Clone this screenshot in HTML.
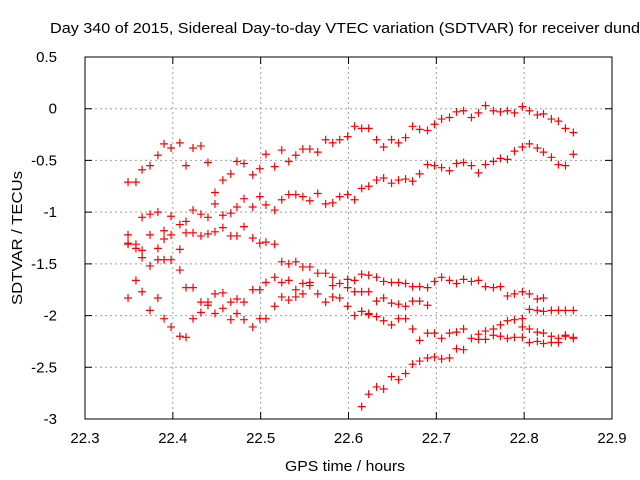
<!DOCTYPE html>
<html><head><meta charset="utf-8"><style>
html,body{margin:0;padding:0;background:#fff;}
svg{display:block;font-family:"Liberation Sans",sans-serif;}
</style></head><body>
<svg id="chart" width="640" height="480" viewBox="0 0 640 480">
<rect width="640" height="480" fill="#fff"/>
<text x="50" y="33" font-size="15" textLength="590" lengthAdjust="spacingAndGlyphs">Day 340 of 2015, Sidereal Day-to-day VTEC variation (SDTVAR) for receiver dund</text>
<g id="grid"></g>
<g id="axes"></g>
<g id="marks"></g>
<text x="345" y="471" font-size="15" text-anchor="middle" textLength="120" lengthAdjust="spacingAndGlyphs">GPS time / hours</text>
<text transform="translate(22,238) rotate(-90)" font-size="15" text-anchor="middle" textLength="134" lengthAdjust="spacingAndGlyphs">SDTVAR / TECUs</text>
</svg>
<script>
const xTicks = [22.3,22.4,22.5,22.6,22.7,22.8,22.9];
const yTicks = [0.5,0,-0.5,-1,-1.5,-2,-2.5,-3];
const xTickLabels = ["22.3","22.4","22.5","22.6","22.7","22.8","22.9"];
const yTickLabels = ["0.5","0","-0.5","-1","-1.5","-2","-2.5","-3"];

const topX = [22.349,22.358,22.365,22.374,22.383,22.390,22.398,22.408,22.415,22.423,22.432,22.440,22.448,22.448,22.457,22.466,22.473,22.481,22.491,22.499,22.506,22.516,22.524,22.532,22.540,22.548,22.556,22.565,22.574,22.582,22.590,22.599,22.607,22.615,22.623,22.632,22.640,22.649,22.657,22.665,22.673,22.681,22.690,22.698,22.706,22.715,22.723,22.731,22.740,22.748,22.756,22.765,22.773,22.781,22.789,22.798,22.806,22.815,22.822,22.831,22.839,22.847,22.856];
const topY = [-0.71,-0.71,-0.59,-0.55,-0.45,-0.34,-0.38,-0.33,-0.55,-0.38,-0.36,-0.52,-0.81,-0.92,-0.69,-0.63,-0.51,-0.53,-0.64,-0.58,-0.44,-0.56,-0.40,-0.51,-0.45,-0.39,-0.39,-0.42,-0.30,-0.33,-0.30,-0.27,-0.17,-0.19,-0.19,-0.30,-0.37,-0.30,-0.33,-0.28,-0.17,-0.20,-0.21,-0.15,-0.10,-0.085,-0.03,-0.02,-0.085,-0.04,0.03,-0.02,-0.03,-0.02,-0.04,0.02,-0.02,-0.06,-0.05,-0.10,-0.12,-0.19,-0.23];

const secondX = [22.365,22.374,22.383,22.398,22.408,22.415,22.423,22.432,22.440,22.457,22.466,22.473,22.481,22.491,22.499,22.506,22.516,22.524,22.532,22.540,22.548,22.556,22.565,22.574,22.582,22.590,22.599,22.607,22.615,22.623,22.632,22.640,22.649,22.657,22.665,22.673,22.681,22.690,22.698,22.706,22.715,22.723,22.731,22.740,22.748,22.756,22.765,22.773,22.781,22.789,22.798,22.806,22.815,22.822,22.831,22.839,22.847,22.856];
const secondY = [-1.05,-1.02,-1.00,-1.04,-1.12,-1.09,-0.98,-1.02,-1.05,-1.03,-1.01,-0.95,-0.87,-0.95,-0.85,-0.93,-0.98,-0.88,-0.83,-0.83,-0.85,-0.89,-0.82,-0.92,-0.91,-0.85,-0.83,-0.88,-0.77,-0.75,-0.69,-0.67,-0.72,-0.69,-0.68,-0.70,-0.63,-0.54,-0.55,-0.57,-0.60,-0.53,-0.52,-0.55,-0.62,-0.54,-0.51,-0.48,-0.49,-0.41,-0.37,-0.34,-0.38,-0.42,-0.47,-0.54,-0.55,-0.44];

const middleX = [22.349,22.349,22.349,22.358,22.358,22.365,22.365,22.374,22.374,22.383,22.383,22.390,22.398,22.390,22.390,22.398,22.408,22.408,22.415,22.423,22.432,22.440,22.448,22.457,22.466,22.473,22.481,22.491,22.499,22.506,22.516,22.524,22.532,22.540,22.548,22.556,22.565,22.574,22.582,22.590,22.599,22.607,22.615,22.623,22.632,22.640,22.649,22.657,22.665,22.673,22.681,22.690,22.698,22.706,22.715,22.723,22.731,22.740,22.748,22.756,22.765,22.773,22.781,22.789,22.798,22.806,22.815,22.822];
const middleY = [-1.22,-1.30,-1.31,-1.31,-1.35,-1.37,-1.44,-1.22,-1.52,-1.35,-1.46,-1.46,-1.46,-1.18,-1.26,-1.22,-1.36,-1.56,-1.20,-1.20,-1.23,-1.21,-1.19,-1.15,-1.23,-1.23,-1.14,-1.25,-1.30,-1.29,-1.31,-1.48,-1.50,-1.48,-1.53,-1.53,-1.59,-1.59,-1.63,-1.69,-1.65,-1.66,-1.60,-1.61,-1.63,-1.67,-1.68,-1.68,-1.69,-1.72,-1.72,-1.73,-1.67,-1.63,-1.66,-1.69,-1.65,-1.67,-1.66,-1.72,-1.73,-1.72,-1.81,-1.79,-1.77,-1.79,-1.84,-1.83];

const lowerX = [22.349,22.358,22.365,22.374,22.383,22.390,22.398,22.408,22.415,22.415,22.423,22.423,22.432,22.440,22.432,22.440,22.448,22.457,22.448,22.457,22.466,22.473,22.481,22.466,22.473,22.481,22.491,22.499,22.491,22.499,22.506,22.506,22.516,22.516,22.524,22.532,22.524,22.532,22.540,22.548,22.540,22.548,22.556,22.556,22.565,22.574,22.582,22.590,22.582,22.599,22.599,22.607,22.615,22.623,22.607,22.615,22.623,22.632,22.640,22.649,22.657,22.665,22.673,22.681,22.690];
const lowerY = [-1.83,-1.66,-1.77,-1.95,-1.83,-2.03,-2.11,-2.20,-2.21,-1.73,-1.73,-2.03,-1.87,-1.87,-1.97,-1.90,-1.79,-1.78,-1.98,-1.93,-1.87,-1.84,-1.87,-2.04,-1.98,-2.04,-1.75,-1.75,-2.11,-2.03,-2.03,-1.68,-1.63,-1.91,-1.68,-1.66,-1.82,-1.85,-1.82,-1.79,-1.75,-1.69,-1.68,-1.71,-1.79,-1.87,-1.82,-1.83,-1.71,-1.73,-1.91,-1.77,-1.77,-1.77,-2.00,-1.96,-1.98,-1.86,-1.83,-1.88,-1.89,-1.91,-1.86,-1.86,-1.90];

const dropX = [22.615,22.623,22.632,22.640,22.649,22.657,22.665,22.673,22.681,22.690,22.698,22.706,22.715,22.723,22.731,22.740,22.748,22.756,22.748,22.756,22.765,22.773,22.781,22.789,22.798,22.765,22.773,22.781,22.789,22.798,22.798,22.806,22.815,22.822,22.806,22.815,22.822,22.831,22.839,22.847,22.856,22.831,22.839,22.847,22.856,22.806,22.815,22.822,22.831,22.839,22.847,22.856];
const dropY = [-1.96,-1.99,-2.01,-2.05,-2.09,-2.03,-2.03,-2.13,-2.24,-2.17,-2.17,-2.22,-2.17,-2.16,-2.13,-2.22,-2.23,-2.23,-2.18,-2.15,-2.13,-2.09,-2.05,-2.04,-2.03,-2.19,-2.20,-2.22,-2.21,-2.21,-2.11,-2.13,-2.16,-2.17,-2.26,-2.25,-2.27,-2.26,-2.26,-2.20,-2.22,-2.20,-2.22,-2.19,-2.21,-1.94,-1.95,-1.96,-1.95,-1.95,-1.95,-1.95];

const riseX = [22.615,22.623,22.632,22.640,22.649,22.657,22.665,22.673,22.681,22.690,22.698,22.706,22.715,22.723,22.731];
const riseY = [-2.88,-2.76,-2.69,-2.71,-2.59,-2.62,-2.56,-2.47,-2.44,-2.41,-2.40,-2.42,-2.41,-2.32,-2.33];

const L=85,R=612,T=57,B=419;
const xMin=22.3,xMax=22.9,yMin=-3,yMax=0.5;
function xs(v){return L+(v-xMin)/(xMax-xMin)*(R-L);}
function ys(v){return B-(v-yMin)/(yMax-yMin)*(B-T);}
const NS="http://www.w3.org/2000/svg";
function mk(tag,attrs,parent){const e=document.createElementNS(NS,tag);for(const k in attrs)e.setAttribute(k,attrs[k]);parent.appendChild(e);return e;}
const grid=document.getElementById('grid'),axes=document.getElementById('axes'),marks=document.getElementById('marks');

xTicks.forEach((t,i)=>{
  const x=xs(t);
  if(i>0&&i<xTicks.length-1){
    const g=mk('line',{x1:x,x2:x,y1:T,y2:B,stroke:'#a0a0a0','stroke-dasharray':'2,3','stroke-width':1},grid);
    
    
  }
  const tk=mk('path',{d:`M${x},${B}v-7M${x},${T}v7`,stroke:'#000','stroke-width':1},axes);
  
  
  const lb=mk('text',{x:x,y:B+24,'font-size':15,'text-anchor':'middle'},axes);
  lb.textContent=xTickLabels[i];
  
  
});
yTicks.forEach((t,i)=>{
  const y=ys(t);
  if(i>0&&i<yTicks.length-1){
    const g=mk('line',{x1:L,x2:R,y1:y,y2:y,stroke:'#a0a0a0','stroke-dasharray':'2,3','stroke-width':1},grid);
    
    
  }
  const tk=mk('path',{d:`M${L},${y}h7M${R},${y}h-7`,stroke:'#000','stroke-width':1},axes);
  
  
  const lb=mk('text',{x:L-28,y:y+5,'font-size':15,'text-anchor':'end'},axes);
  lb.textContent=yTickLabels[i];
  
  
});
const fr=mk('rect',{x:L,y:T,width:R-L,height:B-T,fill:'none',stroke:'#000','stroke-width':1},axes);



const series=[[topX,topY],[secondX,secondY],[middleX,middleY],[lowerX,lowerY],[dropX,dropY],[riseX,riseY]];
series.forEach((s,si)=>{
  s[0].forEach((xv,i)=>{
    const x=xs(xv),y=ys(s[1][i]);
    const p=mk('path',{d:`M${x-4},${y}h8M${x},${y-4}v8`,stroke:'#ff0000','stroke-width':1.2},marks);
    
    
  });
});
</script>
</body></html>
